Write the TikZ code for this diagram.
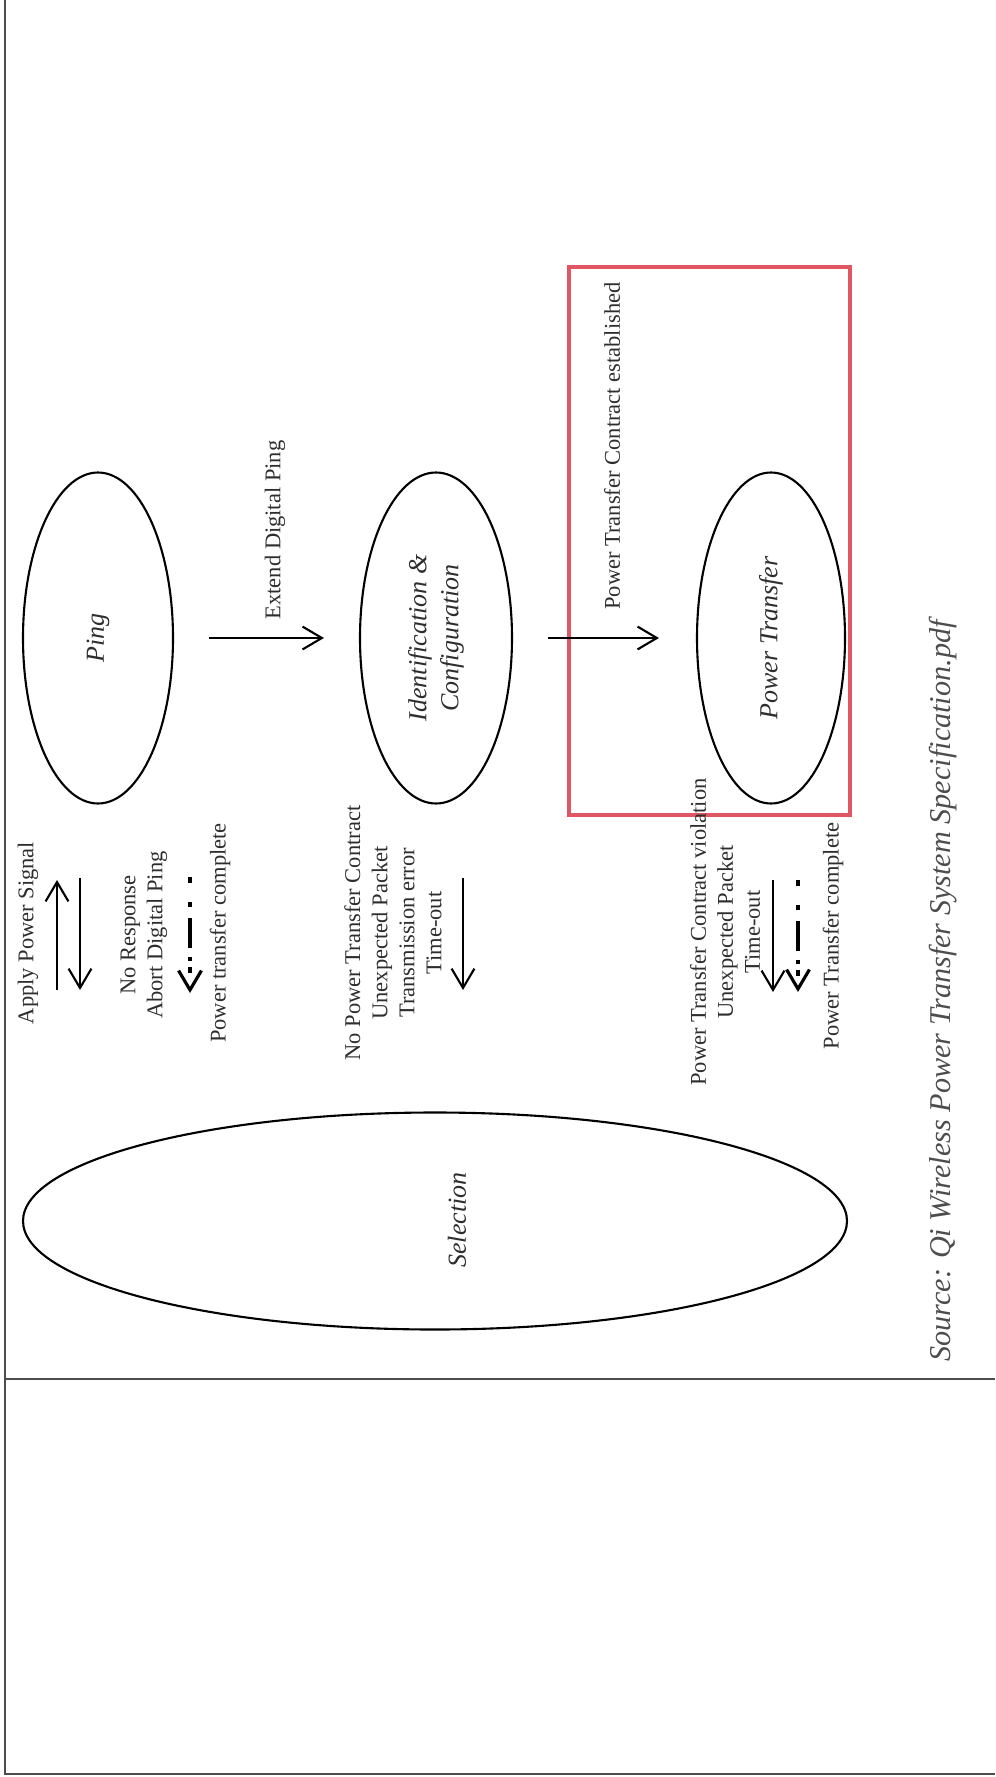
\documentclass[tikz,border=0pt]{standalone}
\usepackage{amsmath,amssymb,tikz,xcolor}
\usepackage{fontspec}
\setmainfont{Liberation Serif}
\usetikzlibrary{shapes.geometric,arrows.meta}

\definecolor{boxred}{RGB}{224,86,98}
\definecolor{framegray}{RGB}{77,77,77}
\definecolor{txtgray}{RGB}{45,45,45}

\begin{document}
\begin{tikzpicture}[x=0.1mm,y=-0.1mm,
        state/.style={draw,ellipse,rotate=90,inner sep=0pt,line width=0.6pt,text=txtgray,font=\fontsize{7.4}{9.1}\selectfont\itshape,align=center},
        note/.style={rotate=90,inner sep=0pt,align=center,text=txtgray,font=\fontsize{6.4}{7.7}\selectfont},
        flow/.style={-{Straight Barb[length=5.5pt,width=6.5pt]},line width=0.6pt},
        dashflow/.style={flow,line width=0.9pt,dash pattern=on 1.7pt off 5.4pt on 1.4pt off 3.1pt on 8.5pt off 2.8pt on 1.1pt off 1.7pt}]
                \useasboundingbox (0,0) rectangle (995,1777);
                % frame
                \draw[framegray,line width=0.8pt] (5,0) -- (5,1774) -- (995,1774);
                \draw[framegray,line width=0.8pt] (5,1379) -- (995,1379);
                % states
                \node[state,minimum width=33.1mm,minimum height=15mm] (ping) at (98,638) {Ping};
                \node[state,minimum width=33.1mm,minimum height=15.2mm] (ident) at (436,638) {Identification \&\\Configuration};
                \node[state,minimum width=33.1mm,minimum height=14.8mm] (ptrans) at (771,638) {Power Transfer};
                \node[state,minimum width=21.7mm,minimum height=82.4mm] (sel) at (435,1221) {};
                \node[state,draw=none] (seltxt) at (457,1220) {Selection};
                % highlight
                \draw[boxred,line width=1.2pt] (569,267) rectangle (850,815);
                % forward transitions
                \draw[flow] ([xshift=3.5mm]ping.south) -- ([xshift=-3.5mm]ident.north);
                \node[note] (extend) at (275,530) {Extend Digital Ping};
                \draw[flow] ([xshift=3.5mm]ident.south) -- ([xshift=-3.7mm]ptrans.north);
                \node[note] (contract) at (612,446) {Power Transfer Contract established};
                % ping <-> selection
                \coordinate (ap1) at (57,990);
                \coordinate (ap2) at (57,880);
                \coordinate (nr1) at (80,878);
                \coordinate (nr2) at (80,990);
                \coordinate (pc1) at (190,877);
                \coordinate (pc2) at (190,993);
                \draw[flow] (ap1) -- (ap2);
                \draw[flow] (nr1) -- (nr2);
                \draw[dashflow] (pc1) -- (pc2);
                \node[note] (apply) at (28,933) {Apply Power Signal};
                \node[note] (noresp) at (144,935) {No Response\\Abort Digital Ping};
                \node[note] (ptdone) at (220,933) {Power transfer complete};
                % identification -> selection
                \coordinate (id1) at (463,878);
                \coordinate (id2) at (463,990);
                \draw[flow] (id1) -- (id2);
                \node[note] (iderr) at (393,933) {No Power Transfer Contract\\Unexpected Packet\\Transmission error\\Time-out};
                % power transfer -> selection
                \coordinate (pt1) at (773,880);
                \coordinate (pt2) at (773,992);
                \coordinate (pt3) at (798,880);
                \coordinate (pt4) at (798,992);
                \draw[flow] (pt1) -- (pt2);
                \draw[dashflow] (pt3) -- (pt4);
                \node[note] (pterr) at (725,932) {Power Transfer Contract violation\\Unexpected Packet\\Time-out};
                \node[note] (ptend) at (833,936) {Power Transfer complete};
                % source
                \node[rotate=90,inner sep=0pt,text=framegray,font=\fontsize{8.6}{10}\selectfont\itshape] (src) at (943,991) {Source: Qi Wireless Power Transfer System Specification.pdf};
            \end{tikzpicture}
\end{document}
